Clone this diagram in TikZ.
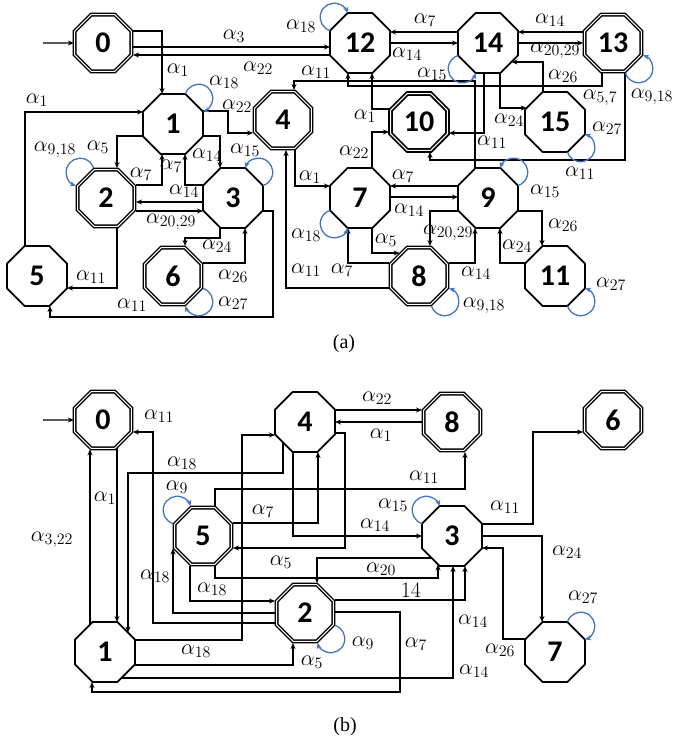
\RequirePackage{fix-cm}
\documentclass[tikz,border=0pt]{standalone}
\usepackage{fontspec}
\setmainfont{Liberation Serif}
\newfontfamily\numfont{Carlito}
\DeclareMathSizes{22}{22}{16}{12}
\usetikzlibrary{shapes.geometric,arrows.meta,calc}
\definecolor{loopblue}{HTML}{4472C4}
\newcounter{lbc}
\newcommand\mylab[2]{\stepcounter{lbc}\node[lab] (lab\arabic{lbc}) at (#1) {$#2$};}
\tikzset{
  st/.style={regular polygon, regular polygon sides=8, minimum size=64.9pt, inner sep=0pt,
    draw, line width=1.7pt, font=\numfont\bfseries\fontsize{30}{30}\selectfont},
  acc/.style={st, minimum size=61.5pt, double, double distance=1.1pt, line width=1.4pt},
  cn/.style={line width=1.1pt, -{Stealth[length=6pt,width=5pt]}},
  lpst/.style={draw=loopblue, line width=1.3pt},
  lab/.style={font=\fontsize{22}{26}\selectfont, inner sep=0pt},
  pics/lpf/.style={code={\draw[lpst,-{Stealth[length=6pt,width=5pt]}] (12.4,30) arc[start angle=162.6,end angle=-72.6,radius=14];}},
  pics/lpr/.style={code={\draw[lpst,{Stealth[length=6pt,width=5pt]}-] (12.4,30) arc[start angle=162.6,end angle=-72.6,radius=14];}}
}
\begin{document}
\begin{tikzpicture}[x=1pt,y=1pt]
\useasboundingbox (0,0) rectangle (673,-742);
% ---------------- (a) nodes
\node[acc] (a0) at (103,-43) {0};
\node[st] (a12) at (360,-43) {12};
\node[st] (a14) at (488,-43) {14};
\node[acc] (a13) at (613,-43) {13};
\node[st] (a1) at (173,-124) {1};
\node[acc] (a4) at (283,-120) {4};
\node[acc,line width=1.8pt] (a10) at (419,-122) {10};
\node[st] (a15) at (555,-122) {15};
\node[acc] (a2) at (106,-198) {2};
\node[st] (a3) at (233,-198) {3};
\node[st] (a7) at (360,-198) {7};
\node[st] (a9) at (488,-198) {9};
\node[st] (a5) at (37,-276) {5};
\node[acc] (a6) at (173,-276) {6};
\node[acc] (a8) at (419,-276) {8};
\node[st] (a11) at (555,-276) {11};
% (a) edges
\coordinate (sa) at (43,-43);
\draw[cn] (sa) -- (a0);
\draw[cn] ($(a0)+(30,12)$) -| ($(a1)+(-11,30)$);
\draw[cn] ($(a0)+(30,-4)$) -- ($(a12)+(-30,-4)$);
\draw[cn] ($(a12)+(-30,-12)$) -- ($(a0)+(30,-12)$);
\draw[cn] ($(a1)+(30,13)$) -| (228,-133) -- ($(a4)+(-30,-13)$);
\draw[cn] ($(a5)+(-12,30)$) |- ($(a1)+(-30,12)$);
\draw[cn] ($(a1)+(-30,-12)$) -| ($(a2)+(11,30)$);
\draw[cn] ($(a2)+(30,13)$) -| ($(a1)+(-11,-30)$);
\draw[cn] ($(a3)+(-30,13)$) -| ($(a1)+(12,-30)$);
\draw[cn] ($(a1)+(30,-12)$) -| ($(a3)+(-13,30)$);
\draw[cn] ($(a3)+(-30,-4)$) -- ($(a2)+(30,-4)$);
\draw[cn] ($(a2)+(30,-13)$) -- ($(a3)+(-30,-13)$);
\draw[cn] ($(a3)+(-13,-30)$) |- (185,-238) -- ($(a6)+(12,30)$);
\draw[cn] ($(a6)+(30,13)$) -| ($(a3)+(12,-30)$);
\draw[cn] ($(a2)+(11,-30)$) |- ($(a5)+(30,-12)$);
\draw[cn] ($(a3)+(30,-13)$) -| (273,-317) -| ($(a5)+(13,-30)$);
\draw[cn] ($(a4)+(12,-30)$) |- ($(a7)+(-30,12)$);
\draw[cn] ($(a8)+(-30,-12)$) -| ($(a4)+(3,-30)$);
\draw[cn] ($(a7)+(12,30)$) |- ($(a10)+(-30,-10)$);
\draw[cn] ($(a10)+(-30,13)$) -| ($(a12)+(12,-30)$);
\draw[cn] ($(a9)+(-30,12)$) -- ($(a7)+(30,12)$);
\draw[cn] ($(a7)+(30,1)$) -- ($(a9)+(-30,1)$);
\draw[cn] ($(a8)+(-30,13)$) -| ($(a7)+(-12,-30)$);
\draw[cn] ($(a7)+(12,-30)$) |- ($(a8)+(-19.4,23)$);
\draw[cn] ($(a9)+(-30,-13)$) -| ($(a8)+(11,30)$);
\draw[cn] ($(a8)+(30,13)$) -| ($(a9)+(-13,-30)$);
\draw[cn] ($(a9)+(30,-13)$) -| ($(a11)+(-13,30)$);
\draw[cn] ($(a11)+(-30,13)$) -| ($(a9)+(12,-30)$);
\draw[cn] ($(a14)+(-30,11)$) -- ($(a12)+(30,11)$);
\draw[cn] ($(a12)+(30,0)$) -- ($(a14)+(-30,0)$);
\draw[cn] ($(a13)+(-30,11)$) -- ($(a14)+(30,11)$);
\draw[cn] ($(a14)+(30,0)$) -- ($(a13)+(-30,0)$);
\draw[cn] ($(a15)+(-12,30)$) |- ($(a14)+(23.4,-19)$);
\draw[cn] ($(a14)+(12,-30)$) |- ($(a15)+(-28.4,14)$);
\draw[cn] ($(a13)+(12,-30)$) |- (430,-160) -- ($(a10)+(11,-30)$);
\draw[cn] ($(a14)+(-4,-30)$) |- ($(a10)+(30,-11)$);
\draw[cn] ($(a9)+(-13,29.4)$) |- (294,-81) -- ($(a4)+(11,30)$);
\draw[cn] ($(a13)+(-11,-30)$) |- (348,-86) -- ($(a12)+(-12,-30)$);
% (a) loops
\pic[rotate=90] at (a12) {lpf};
\pic at (a1) {lpf};
\pic[rotate=90] at (a2) {lpr};
\pic at (a3) {lpr};
\pic[rotate=-90] at (a6) {lpf};
\pic[rotate=180] at (a7) {lpr};
\pic[rotate=-90] at (a8) {lpr};
\pic at (a9) {lpr};
\pic[rotate=-90] at (a11) {lpr};
\pic[rotate=-90] at (a13) {lpr};
\pic[rotate=180] at (a14) {lpr};
\pic[rotate=-90] at (a15) {lpr};
% (a) labels
\mylab{178,-70}{\alpha_1}
\mylab{234,-36}{\alpha_3}
\mylab{258,-68}{\alpha_{22}}
\mylab{301,-26}{\alpha_{18}}
\mylab{224,-82}{\alpha_{18}}
\mylab{237,-106}{\alpha_{22}}
\mylab{37,-100}{\alpha_1}
\mylab{98,-147}{\alpha_5}
\mylab{55,-150}{\alpha_{9,18}}
\mylab{141,-174}{\alpha_7}
\mylab{171,-166}{\alpha_7}
\mylab{207,-155}{\alpha_{14}}
\mylab{245,-150}{\alpha_{15}}
\mylab{184,-191}{\alpha_{14}}
\mylab{171,-222}{\alpha_{20,29}}
\mylab{217,-246}{\alpha_{24}}
\mylab{233,-276}{\alpha_{26}}
\mylab{233,-303}{\alpha_{27}}
\mylab{91,-277}{\alpha_{11}}
\mylab{132,-305}{\alpha_{11}}
\mylab{310,-177}{\alpha_1}
\mylab{306,-270}{\alpha_{11}}
\mylab{354,-152}{\alpha_{22}}
\mylab{365,-116}{\alpha_1}
\mylab{403,-176}{\alpha_7}
\mylab{409,-210}{\alpha_{14}}
\mylab{306,-235}{\alpha_{18}}
\mylab{342,-270}{\alpha_7}
\mylab{386,-240}{\alpha_5}
\mylab{448,-233}{\alpha_{20,29}}
\mylab{476,-273}{\alpha_{14}}
\mylab{484,-306}{\alpha_{9,18}}
\mylab{545,-191}{\alpha_{15}}
\mylab{563,-225}{\alpha_{26}}
\mylab{517,-246}{\alpha_{24}}
\mylab{611,-284}{\alpha_{27}}
\mylab{425,-20}{\alpha_7}
\mylab{407,-54}{\alpha_{14}}
\mylab{550,-20}{\alpha_{14}}
\mylab{555,-51}{\alpha_{20,29}}
\mylab{432,-74}{\alpha_{15}}
\mylab{652,-97}{\alpha_{9,18}}
\mylab{563,-76}{\alpha_{26}}
\mylab{509,-120}{\alpha_{24}}
\mylab{607,-128}{\alpha_{27}}
\mylab{580,-173}{\alpha_{11}}
\mylab{492,-142}{\alpha_{11}}
\mylab{316,-72}{\alpha_{11}}
\mylab{600,-98}{\alpha_{5,7}}
\node[font=\fontsize{20}{24}\selectfont] (capa) at (344,-344) {(a)};
% ---------------- (b) nodes
\node[acc] (b0) at (103,-420) {0};
\node[st] (b4) at (305,-422) {4};
\node[acc] (b8) at (452,-422) {8};
\node[acc] (b6) at (613,-420) {6};
\node[acc] (b5) at (203,-536) {5};
\node[st] (b3) at (452,-536) {3};
\node[acc] (b2) at (305,-613) {2};
\node[st] (b1) at (105,-652) {1};
\node[st] (b7) at (555,-652) {7};
% (b) edges
\coordinate (sb) at (43,-420);
\draw[cn] (sb) -- (b0);
\draw[cn] ($(b0)+(14,-28.4)$) -- ($(b1)+(12,30)$);
\draw[cn] ($(b1)+(-15,27.4)$) -- ($(b0)+(-13,-29.4)$);
\draw[cn] ($(b2)+(-30,-10)$) -| (153,-432) -- ($(b0)+(30,-12)$);
\draw[cn] ($(b4)+(-22,-20.4)$) |- (128,-473) -- ($(b1)+(23,19.4)$);
\draw[cn] ($(b1)+(30,12)$) -| (242,-435) -- ($(b4)+(-30,-13)$);
\draw[cn] ($(b1)+(30,-13)$) -| ($(b2)+(-12,-30)$);
\draw[cn] ($(b1)+(16.4,-26)$) -| ($(b3)+(1,-30)$);
\draw[cn] ($(b2)+(30,1)$) -| (400,-692) -| ($(b1)+(-13,-30)$);
\draw[cn] ($(b2)+(30,13)$) -| ($(b3)+(13,-30)$);
\draw[cn] ($(b5)+(12,-30)$) |- (438,-578) -- ($(b3)+(-14,-28.4)$);
\draw[cn] ($(b3)+(-20.4,-22)$) -| ($(b2)+(12,30)$);
\draw[cn] ($(b4)+(-12,-30)$) |- ($(b3)+(-30,0)$);
\draw[cn] ($(b5)+(30,13)$) -| ($(b4)+(13,-30)$);
\draw[cn] ($(b5)+(12,30)$) |- (465,-489) -- ($(b8)+(13,-30)$);
\draw[cn] ($(b4)+(30,-11)$) -| (345,-548) -- ($(b5)+(30,-12)$);
\draw[cn] ($(b5)+(-13,-30)$) |- ($(b2)+(-30,12)$);
\draw[cn] ($(b2)+(-30,0)$) -| ($(b5)+(-30,-12.4)$);
\draw[cn] ($(b3)+(30,12)$) -| (533,-432) -- ($(b6)+(-30,-12)$);
\draw[cn] ($(b3)+(30,0)$) -| ($(b7)+(-13,30)$);
\draw[cn] ($(b7)+(-30,13)$) -| (503,-548) -- ($(b3)+(30,-12)$);
\draw[cn] ($(b4)+(30,12)$) -- ($(b8)+(-30,12)$);
\draw[cn] ($(b8)+(-30,0)$) -- ($(b4)+(30,0)$);
% (b) loops
\pic[rotate=90] at (b5) {lpf};
\pic[rotate=90] at (b3) {lpf};
\pic[rotate=-90] at (b2) {lpf};
\pic at (b7) {lpf};
% (b) labels
\mylab{159,-416}{\alpha_{11}}
\mylab{182,-463}{\alpha_{18}}
\mylab{105,-498}{\alpha_1}
\mylab{52,-540}{\alpha_{3,22}}
\mylab{177,-487}{\alpha_9}
\mylab{263,-511}{\alpha_7}
\mylab{377,-398}{\alpha_{22}}
\mylab{381,-435}{\alpha_1}
\mylab{424,-477}{\alpha_{11}}
\mylab{393,-505}{\alpha_{15}}
\mylab{375,-525}{\alpha_{14}}
\mylab{505,-507}{\alpha_{11}}
\mylab{567,-552}{\alpha_{24}}
\mylab{281,-562}{\alpha_5}
\mylab{381,-569}{\alpha_{20}}
\mylab{155,-576}{\alpha_{18}}
\mylab{212,-589}{\alpha_{18}}
\mylab{196,-651}{\alpha_{18}}
\mylab{312,-662}{\alpha_5}
\mylab{411,-590}{14}
\mylab{363,-643}{\alpha_9}
\mylab{416,-644}{\alpha_7}
\mylab{473,-621}{\alpha_{14}}
\mylab{474,-671}{\alpha_{14}}
\mylab{500,-650}{\alpha_{26}}
\mylab{583,-597}{\alpha_{27}}
\node[font=\fontsize{20}{24}\selectfont] (capb) at (345,-727) {(b)};
\end{tikzpicture}
\end{document}
